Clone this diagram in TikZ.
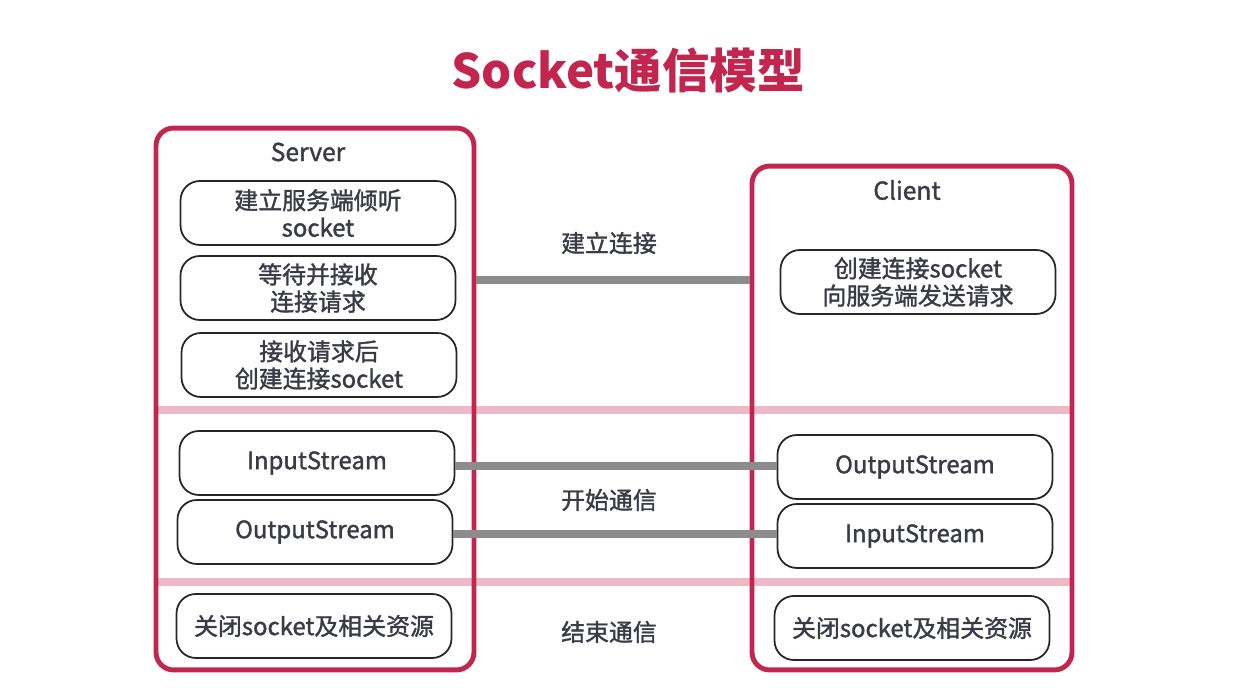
\documentclass[tikz,border=0pt]{standalone}
\usepackage{fontspec}
\setmainfont{Noto Sans CJK SC}
\newfontfamily\medfont[FakeBold=1.5]{Noto Sans CJK SC}
\usetikzlibrary{positioning}
\definecolor{sockred}{HTML}{C2264F}
\definecolor{seppink}{HTML}{EDB9C6}
\definecolor{linkgray}{HTML}{8C8C8C}
\definecolor{txtgray}{HTML}{3B3B47}
\tikzset{
  outer/.style={draw=sockred, line width=2.8pt, rounded corners=10pt},
  stage/.style={draw=black!85, line width=1pt, rounded corners=11pt,
    minimum width=5.5cm, minimum height=1.28cm, align=center,
    text=txtgray, font=\medfont\fontsize{13.6}{15.5}\selectfont},
  link/.style={draw=linkgray, line width=4pt},
  sep/.style={draw=seppink, line width=4.5pt},
  lbl/.style={text=txtgray, font=\medfont\fontsize{13.6}{15.5}\selectfont}
}
\begin{document}
\begin{tikzpicture}[x=0.02cm, y=-0.02cm]
\useasboundingbox (0,0) rectangle (1252,688);
\node [text=sockred, font=\fontsize{27}{30}\selectfont\bfseries] (title) at (628,70) {Socket通信模型};
% phase separators
\draw [sep] (158,410) -- (1070,410);
\draw [sep] (158,582) -- (1070,582);
% server side
\node [outer, minimum width=6.36cm, minimum height=10.84cm] (srv) at (315,399) {};
\node [lbl, font=\medfont\fontsize{14}{16}\selectfont] (srvname) at (308,152) {Server};
\node [stage] (listen) at (318,213) {建立服务端倾听\\socket};
\node [stage] (wait) at (318,288) {等待并接收\\连接请求};
\node [stage] (accept) at (319,365) {接收请求后\\创建连接socket};
\node [stage] (srvin) at (317,463) {InputStream};
\node [stage] (srvout) at (315,532) {OutputStream};
\node [stage] (srvclose) at (314,626) {关闭socket及相关资源};
% client side
\node [outer, minimum width=6.4cm, minimum height=10.08cm] (cli) at (912,418) {};
\node [lbl, font=\medfont\fontsize{14}{16}\selectfont] (cliname) at (907,190) {Client};
\node [stage] (connect) at (918,282) {创建连接socket\\向服务端发送请求};
\node [stage] (cliout) at (915,467) {OutputStream};
\node [stage] (cliin) at (915,536) {InputStream};
\node [stage] (cliclose) at (912,628) {关闭socket及相关资源};
% links
\draw [link] (srv.east |- 0,280) -- (cli.west |- 0,280);
\draw [link] (srvin.east |- 0,466) -- (cliout.west |- 0,466);
\draw [link] (srvout.east |- 0,534) -- (cliin.west |- 0,534);
\node [lbl] (estab) at (609,243) {建立连接};
\node [lbl] (comm) at (609,500) {开始通信};
\node [lbl] (fin) at (609,632) {结束通信};
\end{tikzpicture}
\end{document}
